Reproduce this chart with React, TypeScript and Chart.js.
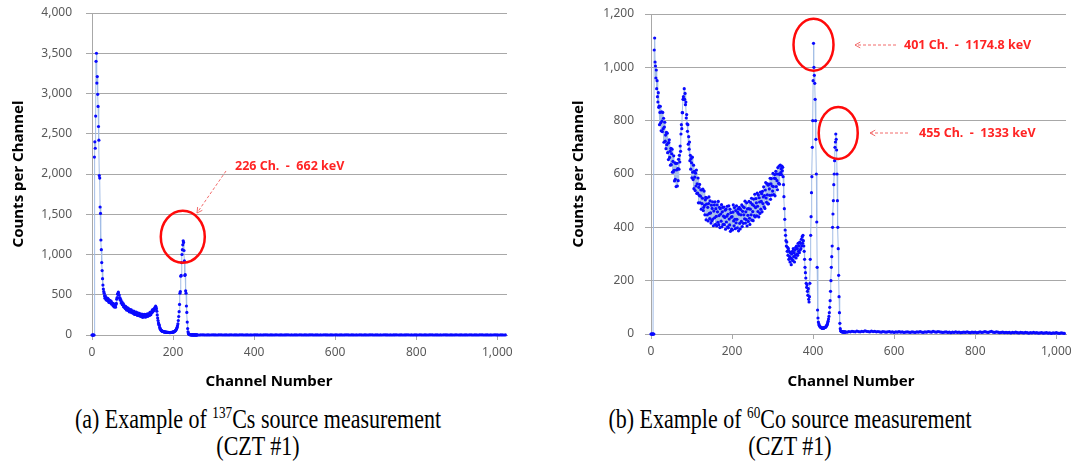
import React, { useEffect, useRef } from 'react';
import { Chart, registerables } from 'chart.js';

Chart.register(...registerables);

// ---------- DATA ----------
const xTicks = [0, 200, 400, 600, 800, 1000];
const csYTicks = [0, 500, 1000, 1500, 2000, 2500, 3000, 3500, 4000];
const coYTicks = [0, 200, 400, 600, 800, 1000, 1200];

// 137Cs counts, one value per channel, channels 0..259
const csCounts = [
  0, 0, 0, 0, 0, 0,
  2210, 2400, 2320, 2720, 3400, 3500, 3130, 3210, 2990, 2840, 2590, 2420, 1980, 1950, 1590, 1510, 1180, 1060, 900, 800, 700, 620, 570, 540, 520,
  486, 457, 485, 457, 436, 462, 447, 428, 455, 422,
  440, 404, 423, 430, 400, 404, 421, 384, 404, 384,
  393, 363, 390, 362, 348, 370, 358, 346, 380, 392,
  445, 465, 508, 509, 532, 502, 496, 458, 462, 433,
  439, 396, 409, 411, 376, 376, 390, 350, 367, 345,
  355, 328, 357, 331, 311, 339, 325, 307, 335, 303,
  322, 288, 308, 317, 288, 294, 312, 277, 298, 280,
  292, 267, 298, 274, 255, 285, 273, 257, 286, 256,
  276, 242, 263, 272, 244, 251, 270, 235, 257, 239,
  252, 228, 260, 237, 220, 251, 241, 226, 258, 230,
  252, 221, 245, 257, 232, 241, 263, 232, 258, 244,
  262, 243, 280, 263, 252, 289, 284, 275, 313, 291,
  315, 300, 326, 315, 339, 335, 358, 342, 325, 295,
  250, 210, 180, 150, 135, 120, 95, 80, 70, 62,
  56, 52, 48, 46, 44, 42, 40, 39, 38, 37,
  36, 35, 35, 34, 33, 33, 32, 32, 31, 31,
  30, 31, 30, 31, 32, 31, 33, 34, 35, 36,
  38, 40, 43, 46, 50, 55, 62, 70, 80, 95,
  115, 140, 180, 230, 290, 380, 520, 540, 730, 740,
  900, 1000, 1060, 1120, 1170, 1150, 1050, 920, 740, 750,
  550, 520, 360, 280, 160, 80, 40, 20, 10, 6,
  4, 3, 3, 2, 2, 1, 2, 1, 1, 2,
  1, 1, 0, 1, 1, 0, 1, 1, 0,
];
// 137Cs counts for channels 260..1020, every 4th channel
const csTailStart = 260;
const csTailCounts = [
  1, 0, 1, 2, 1, 0, 1, 1, 0, 2, 1, 1, 0, 1, 2, 1, 0, 1, 1, 0,
  1, 2, 0, 1, 1, 0, 1, 2, 1, 0, 1, 1, 0, 1, 0, 2, 1, 1, 0, 1,
  0, 1, 2, 1, 0, 1, 1, 0, 1, 2, 0, 1, 1, 0, 1, 1, 2, 0, 1, 0,
  1, 1, 0, 2, 1, 0, 1, 1, 0, 1, 2, 1, 0, 1, 1, 0, 1, 0, 2, 1,
  1, 0, 1, 1, 0, 2, 1, 0, 1, 1, 0, 1, 2, 1, 0, 1, 1, 0, 1, 0,
  2, 1, 0, 1, 1, 0, 1, 2, 1, 0, 1, 1, 0, 1, 0, 2, 1, 1, 0, 1,
  0, 1, 1, 2, 0, 1, 1, 0, 1, 1, 2, 0, 1, 0, 1, 1, 0, 2, 1, 0,
  1, 1, 0, 1, 2, 1, 0, 1, 1, 0, 1, 0, 2, 1, 1, 0, 1, 1, 0, 1,
  2, 0, 1, 1, 0, 1, 1, 0, 2, 1, 0, 1, 1, 0, 1, 2, 1, 0, 1, 1,
  0, 1, 0, 2, 1, 1, 0, 1, 1, 0, 1,
];

// 60Co counts, one value per channel, channels 0..479
const coCounts = [
  0, 0, 0, 0, 0, 0, 0, 0,
  1065, 1110, 1020, 1005, 960, 990, 920, 950, 890, 870, 905, 850,
  855, 785, 831, 854, 792, 762, 833, 798, 759, 831,
  770, 809, 719, 776, 794, 723, 746, 695, 756, 710,
  753, 680, 716, 654, 718, 728, 662, 685, 633, 696,
  635, 676, 693, 607, 647, 608, 668, 614, 574, 642,
  580, 640, 553, 615, 640, 555, 620, 575, 655, 618,
  670, 645, 705, 685, 750, 785, 770, 830, 830, 880,
  890, 880, 920, 880, 902, 860, 870, 810, 823, 788,
  760, 785, 712, 740, 693, 720, 650, 670, 618, 658,
  642, 586, 663, 607, 579, 633, 545, 610, 588, 538,
  603, 555, 615, 527, 563, 528, 585, 492, 550, 520,
  561, 492, 517, 541, 468, 540, 489, 509, 543, 463,
  475, 536, 482, 447, 503, 512, 428, 487, 510, 447,
  475, 424, 489, 514, 452, 433, 499, 454, 416, 483,
  425, 471, 496, 431, 406, 461, 484, 436, 496, 411,
  470, 441, 405, 484, 458, 419, 497, 410, 444, 475,
  399, 470, 450, 423, 485, 402, 458, 475, 411, 442,
  476, 410, 437, 464, 393, 468, 420, 442, 479, 402,
  449, 398, 481, 431, 409, 468, 385, 455, 438, 393,
  440, 390, 457, 484, 424, 406, 474, 430, 395, 463,
  417, 481, 430, 398, 456, 469, 387, 449, 475, 415,
  394, 467, 447, 422, 484, 403, 460, 478, 415, 447,
  474, 432, 498, 416, 458, 429, 492, 405, 469, 445,
  422, 470, 497, 434, 411, 468, 493, 447, 509, 427,
  486, 459, 425, 506, 481, 444, 524, 439, 474, 508,
  492, 443, 528, 479, 459, 521, 439, 511, 495, 452,
  532, 468, 497, 526, 458, 535, 489, 514, 552, 477,
  519, 471, 540, 568, 510, 494, 564, 522, 488, 558,
  488, 562, 544, 520, 584, 505, 563, 583, 521, 555,
  536, 602, 553, 523, 584, 598, 518, 583, 610, 553,
  600, 575, 541, 624, 600, 565, 630, 562, 598, 633,
  605, 620, 598, 630, 612, 625, 590, 560, 515, 470,
  430, 390, 370, 350, 330, 345, 310, 325, 295, 320,
  280, 310, 290, 270, 305, 285, 260, 300, 280, 310,
  275, 320, 290, 305, 270, 315, 295, 325, 285, 330,
  300, 320, 295, 340, 310, 330, 305, 345, 315, 340,
  320, 355, 330, 365, 340, 370, 350, 330, 310, 280,
  250, 230, 210, 190, 175, 185, 160, 145, 170, 130,
  120, 140, 190, 280, 370, 440, 530, 590, 700, 800,
  950, 1090, 1000, 970, 940, 880, 800, 730, 600, 420,
  250, 90, 60, 45, 38, 33, 30, 28, 26, 25,
  24, 23, 22, 22, 21, 22, 22, 23, 24, 25,
  25, 26, 28, 30, 33, 37, 42, 48, 56, 66,
  80, 100, 125, 160, 200, 250, 290, 330, 400, 450,
  500, 560, 600, 650, 700, 720, 750, 730, 690, 600,
  500, 400, 320, 220, 140, 80, 40, 20, 12, 10,
  9, 8, 9, 8, 7, 8, 7, 8, 7, 7,
];
// 60Co counts for channels 480..1020, every 4th channel
const coTailStart = 480;
const coTailCounts = [
  8, 7, 9, 8, 10, 9, 8, 11, 9, 8, 10, 9, 12, 10, 9, 8, 11, 9, 10, 8,
  9, 8, 7, 9, 8, 7, 8, 9, 7, 8, 6, 8, 7, 9, 7, 8, 6, 7, 8, 7,
  6, 8, 7, 6, 8, 7, 9, 7, 6, 8, 7, 9, 8, 7, 10, 8, 7, 9, 8, 7,
  6, 7, 8, 6, 7, 5, 7, 6, 8, 6, 7, 5, 6, 7, 6, 8, 6, 5, 7, 6,
  7, 5, 6, 8, 6, 7, 9, 7, 6, 8, 10, 7, 6, 8, 7, 5, 6, 7, 5, 6,
  5, 6, 4, 6, 5, 7, 5, 4, 6, 5, 4, 6, 5, 3, 5, 4, 6, 4, 5, 3,
  4, 5, 3, 4, 5, 3, 4, 2, 4, 3, 5, 3, 2, 4, 3, 2,
];
const tailStep = 4;

// ---------- HELPERS ----------
type Ann = {
  ellipses: { ch: number; count: number; rx: number; ry: number }[];
  arrows: { from: [number, number]; to: [number, number] }[];
  labels: { text: string; x: number; y: number }[];
  xTitle: { x: number; y: number };
};

function buildPoints(main: number[], tail: number[], tailStart: number) {
  const pts = main.map((v, i) => ({ x: i, y: v }));
  tail.forEach((v, i) => pts.push({ x: tailStart + i * tailStep, y: v }));
  return pts;
}

function makeAnnotPlugin(ann: Ann) {
  return {
    id: 'annot',
    afterDatasetsDraw(chart: any) {
      const { ctx } = chart;
      const xs = chart.scales.x;
      const ys = chart.scales.y;
      ctx.save();
      ctx.strokeStyle = '#ff0a0a';
      ctx.lineWidth = 2.5;
      for (const e of ann.ellipses) {
        ctx.beginPath();
        ctx.ellipse(xs.getPixelForValue(e.ch), ys.getPixelForValue(e.count), e.rx, e.ry, 0, 0, Math.PI * 2);
        ctx.stroke();
      }
      ctx.strokeStyle = '#f26b6b';
      ctx.lineWidth = 1;
      for (const a of ann.arrows) {
        ctx.setLineDash([3, 2]);
        ctx.beginPath();
        ctx.moveTo(a.from[0], a.from[1]);
        ctx.lineTo(a.to[0], a.to[1]);
        ctx.stroke();
        ctx.setLineDash([]);
        const ang = Math.atan2(a.to[1] - a.from[1], a.to[0] - a.from[0]);
        const hl = 6;
        ctx.beginPath();
        ctx.moveTo(a.to[0] - hl * Math.cos(ang - 0.5), a.to[1] - hl * Math.sin(ang - 0.5));
        ctx.lineTo(a.to[0], a.to[1]);
        ctx.lineTo(a.to[0] - hl * Math.cos(ang + 0.5), a.to[1] - hl * Math.sin(ang + 0.5));
        ctx.stroke();
      }
      ctx.fillStyle = '#ff2424';
      ctx.font = 'bold 12.5px "Noto Sans"';
      ctx.textAlign = 'left';
      ctx.textBaseline = 'middle';
      for (const l of ann.labels) {
        ctx.fillText(l.text, l.x, l.y);
      }
      ctx.fillStyle = '#000000';
      ctx.font = 'bold 15px "Noto Sans"';
      ctx.textAlign = 'center';
      ctx.fillText('Channel Number', ann.xTitle.x, ann.xTitle.y);
      ctx.restore();
    },
  };
}

type Spec = {
  points: { x: number; y: number }[];
  yTicks: number[];
  yMax: number;
  yAxisWidth: number;
  xAxisHeight: number;
  yTickPadding: number;
  padding: { top: number; right: number; left: number; bottom: number };
  ann: Ann;
};

function SpectrumChart({ spec, width, height, style }: { spec: Spec; width: number; height: number; style: React.CSSProperties }) {
  const ref = useRef<HTMLCanvasElement | null>(null);
  useEffect(() => {
    if (!ref.current) return;
    const grid = '#a8a8a8';
    const chart = new Chart(ref.current, {
      type: 'scatter',
      data: {
        datasets: [
          {
            data: spec.points,
            showLine: true,
            borderColor: '#a3bde6',
            borderWidth: 1,
            pointRadius: 1.6,
            pointHoverRadius: 0,
            pointBackgroundColor: '#0a0aff',
            pointBorderWidth: 0,
            clip: 6,
          } as any,
        ],
      },
      options: {
        animation: false,
        responsive: false,
        events: [],
        layout: { padding: spec.padding },
        plugins: { legend: { display: false }, tooltip: { enabled: false } },
        scales: {
          x: {
            type: 'linear',
            min: 0,
            max: 1024,
            afterBuildTicks: (s: any) => {
              s.ticks = xTicks.map((v) => ({ value: v }));
            },
            afterFit: (s: any) => {
              s.height = spec.xAxisHeight;
              s.paddingLeft = 0;
              s.paddingRight = 0;
            },
            grid: { drawOnChartArea: false, drawTicks: true, tickLength: 5, color: grid },
            border: { display: true, color: grid },
            ticks: {
              padding: 5,
              maxRotation: 0,
              color: '#595959',
              font: { family: '"Noto Sans"', size: 12 },
              callback: (v: any) => Number(v).toLocaleString('en-US'),
            },
          },
          y: {
            type: 'linear',
            min: 0,
            max: spec.yMax,
            afterBuildTicks: (s: any) => {
              s.ticks = spec.yTicks.map((v) => ({ value: v }));
            },
            afterFit: (s: any) => {
              s.width = spec.yAxisWidth;
              s.paddingTop = 0;
              s.paddingBottom = 0;
            },
            grid: { drawTicks: true, tickLength: 6, color: grid, lineWidth: 1 },
            border: { display: true, color: grid },
            ticks: {
              padding: spec.yTickPadding,
              color: '#595959',
              font: { family: '"Noto Sans"', size: 12 },
              callback: (v: any) => Number(v).toLocaleString('en-US'),
            },
            title: {
              display: true,
              text: 'Counts per Channel',
              color: '#000000',
              font: { family: '"Noto Sans"', size: 15, weight: 'bold' },
              padding: { top: 10, bottom: 0 },
            },
          },
        },
      },
      plugins: [makeAnnotPlugin(spec.ann)],
    } as any);
    return () => chart.destroy();
  }, [spec]);
  return <canvas ref={ref} width={width} height={height} style={{ position: 'absolute', display: 'block', ...style }} />;
}

const csSpec: Spec = {
  points: buildPoints(csCounts, csTailCounts, csTailStart),
  yTicks: csYTicks,
  yMax: 4000,
  yAxisWidth: 92,
  xAxisHeight: 65,
  yTickPadding: 14,
  padding: { top: 13, right: 13, left: 0, bottom: 0 },
  ann: {
    ellipses: [{ ch: 224, count: 1220, rx: 22, ry: 26 }],
    arrows: [{ from: [226, 171], to: [197, 213] }],
    labels: [{ text: '226 Ch.  -  662 keV', x: 235, y: 166 }],
    xTitle: { x: 269, y: 382 },
  },
};

const coSpec: Spec = {
  points: buildPoints(coCounts, coTailCounts, coTailStart),
  yTicks: coYTicks,
  yMax: 1200,
  yAxisWidth: 91,
  xAxisHeight: 66,
  yTickPadding: 11,
  padding: { top: 14, right: 7, left: 0, bottom: 0 },
  ann: {
    ellipses: [
      { ch: 401, count: 1085, rx: 20, ry: 26 },
      { ch: 462, count: 754, rx: 19.5, ry: 26 },
    ],
    arrows: [
      { from: [336, 45], to: [295, 45] },
      { from: [348, 133], to: [310, 133] },
    ],
    labels: [
      { text: '401 Ch.  -  1174.8 keV', x: 344, y: 45 },
      { text: '455 Ch.  -  1333 keV', x: 359, y: 133 },
    ],
    xTitle: { x: 291, y: 382 },
  },
};

const captionStyle: React.CSSProperties = {
  position: 'absolute',
  top: 406,
  width: 520,
  textAlign: 'center',
  fontFamily: '"Liberation Serif", "Times New Roman", serif',
  fontSize: 22,
  lineHeight: '22.5px',
  color: '#000',
  transform: 'scaleY(1.2)',
  transformOrigin: 'top center',
};
const supStyle: React.CSSProperties = {
  fontSize: '0.6em',
  lineHeight: 0,
  verticalAlign: 'baseline',
  position: 'relative',
  top: '-0.6em',
};

export default function App() {
  return (
    <div style={{ position: 'absolute', left: 0, top: 0, width: 1073, height: 464, background: '#ffffff', overflow: 'hidden' }}>
      <SpectrumChart spec={csSpec} width={520} height={400} style={{ left: 0, top: 0 }} />
      <SpectrumChart spec={coSpec} width={513} height={400} style={{ left: 560, top: 0 }} />
      <div style={{ ...captionStyle, left: -2 }}>
        (a) Example of <sup style={supStyle}>137</sup>Cs source measurement
        <br />
        (CZT #1)
      </div>
      <div style={{ ...captionStyle, left: 530 }}>
        (b) Example of <sup style={supStyle}>60</sup>Co source measurement
        <br />
        (CZT #1)
      </div>
    </div>
  );
}
